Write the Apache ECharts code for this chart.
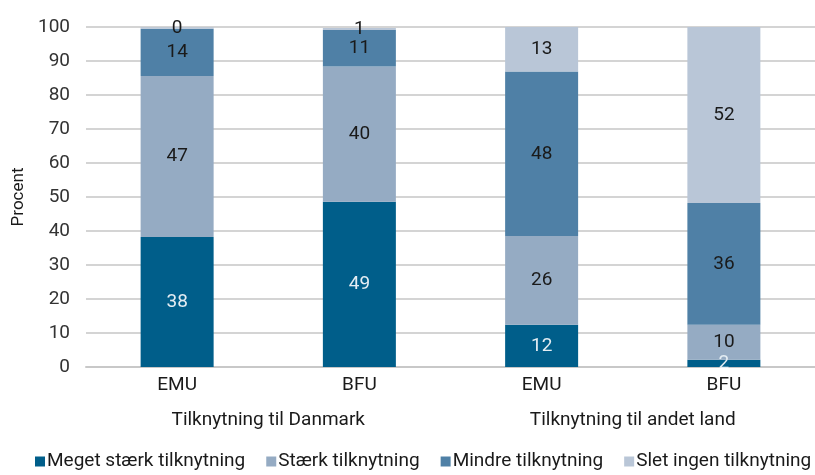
<!DOCTYPE html>
<html lang="da">
<head>
    <meta charset="UTF-8"/>
    <title>Tilknytning</title>
    <script src="https://cdn.jsdelivr.net/npm/echarts@6/dist/echarts.min.js"></script>
    <style>
        html, body { margin: 0; padding: 0; background: #fff; }
        #chart { width: 815px; height: 475px; }
    </style>
</head>
<body>
<div id="chart"></div>
<script type="text/javascript">
    // kategorier (nederste aksel) og grupper
    var categories = ['EMU', 'BFU', 'EMU', 'BFU'];
    var groups = ['Tilknytning til Danmark', 'Tilknytning til andet land'];
    var seriesNames = ['Meget stærk tilknytning', 'Stærk tilknytning', 'Mindre tilknytning', 'Slet ingen tilknytning'];

    // procent
    var megetStaerk = [38.2, 48.6, 12.4, 2.1];
    var staerk = [47.4, 39.8, 26.1, 10.3];
    var mindre = [13.9, 10.7, 48.4, 35.8];
    var sletIngen = [0.4, 0.6, 13.1, 51.8];

    var yTicks = [0, 10, 20, 30, 40, 50, 60, 70, 80, 90, 100];

    var colors = ['#005e8a', '#95abc3', '#4f80a6', '#b9c6d7'];
    var labelColors = ['#e4edf3', '#1a1a1a', '#1a1a1a', '#1a1a1a'];
    var font = 'Roboto';

    function makeSeries(i, data) {
        return {
            name: seriesNames[i],
            type: 'bar',
            stack: 'total',
            barWidth: 73,
            data: data,
            itemStyle: { color: colors[i] },
            label: {
                show: true,
                position: 'inside',
                color: labelColors[i],
                fontFamily: font,
                fontSize: 19,
                formatter: function (p) { return Math.round(p.value); }
            }
        };
    }

    var myChart = echarts.init(document.getElementById('chart'));
    var option = {
        animation: false,
        textStyle: { fontFamily: font },
        grid: { left: 86, right: -3, top: 27, bottom: 108 },
        legend: {
            bottom: -1,
            left: 30,
            width: 800,
            itemWidth: 10,
            itemHeight: 10,
            itemGap: 21,
            icon: 'rect',
            textStyle: { fontSize: 19, color: '#1a1a1a', padding: [0, 0, 0, -3] },
            data: seriesNames
        },
        xAxis: [
            {
                type: 'category',
                data: categories,
                axisLine: { lineStyle: { color: '#c8c8c8', width: 2 } },
                axisTick: { show: false },
                axisLabel: { fontSize: 19, color: '#1a1a1a', margin: 9 }
            },
            {
                type: 'category',
                data: groups,
                position: 'bottom',
                offset: 35,
                axisLine: { show: false },
                axisTick: { show: false },
                axisLabel: { fontSize: 19, color: '#1a1a1a', margin: 9 }
            }
        ],
        yAxis: {
            type: 'value',
            min: yTicks[0],
            max: yTicks[yTicks.length - 1],
            interval: 10,
            name: 'Procent',
            nameLocation: 'middle',
            nameGap: 58,
            nameTextStyle: { fontSize: 17, color: '#1a1a1a' },
            axisLine: { show: false },
            axisTick: { show: false },
            axisLabel: { fontSize: 19, color: '#333', margin: 16 },
            splitLine: { lineStyle: { color: '#d4d4d4', width: 2 } }
        },
        series: [
            makeSeries(0, megetStaerk),
            makeSeries(1, staerk),
            makeSeries(2, mindre),
            makeSeries(3, sletIngen)
        ]
    };
    myChart.setOption(option);
</script>
</body>
</html>
